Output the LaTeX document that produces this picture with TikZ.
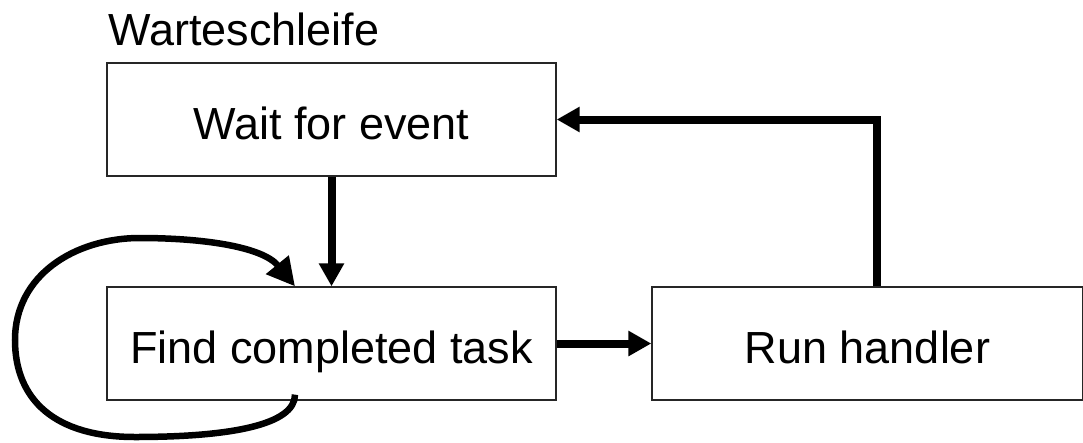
\documentclass[tikz,border=0pt]{standalone}
\usepackage{fontspec}
\setmainfont{Liberation Sans}
\usetikzlibrary{arrows.meta}
\begin{document}
\begin{tikzpicture}[x=1pt,y=-1pt,
  box/.style={draw=black!85,line width=1.3pt,rectangle,inner sep=0pt,
    minimum height=113pt,font=\fontsize{45pt}{50pt}\selectfont,
    text height=40pt,text depth=0pt},
  flow/.style={line width=8pt,-{Triangle[length=23pt,width=24pt]}}]
  \useasboundingbox (0,0) rectangle (1083,442);
  % title above the loop
  \node[anchor=base west,inner sep=0pt,font=\fontsize{45pt}{50pt}\selectfont]
    (title) at (108,45) {Warteschleife};
  % the three stages
  \node[box,minimum width=449pt] (wait) at (331.5,119.5) {Wait for event};
  \node[box,minimum width=449pt] (find) at (331.5,343.5) {Find completed task};
  \node[box,minimum width=431pt] (run)  at (867.5,343.5) {Run handler};
  % connectors
  \draw[flow] (wait.south) -- (find.north);
  \draw[flow] (find.east) -- (run.west);
  \draw[flow] ([xshift=9pt]run.north) |- (wait.east);
  % self loop around the search step
  \coordinate (loopstart) at ([xshift=-36.5pt,yshift=6pt]find.south);
  \coordinate (loopend) at ([xshift=-36.5pt]find.north);
  \draw[flow,line width=6.5pt,-{Triangle[length=28pt,width=28pt]}]
    (loopstart) .. controls (295,425) and (230,437) .. (135,437)
    .. controls (55,437) and (15,400) .. (15,340)
    .. controls (15,275) and (75,238) .. (140,238)
    .. controls (200,238) and (262,246) .. (loopend);
\end{tikzpicture}
\end{document}
